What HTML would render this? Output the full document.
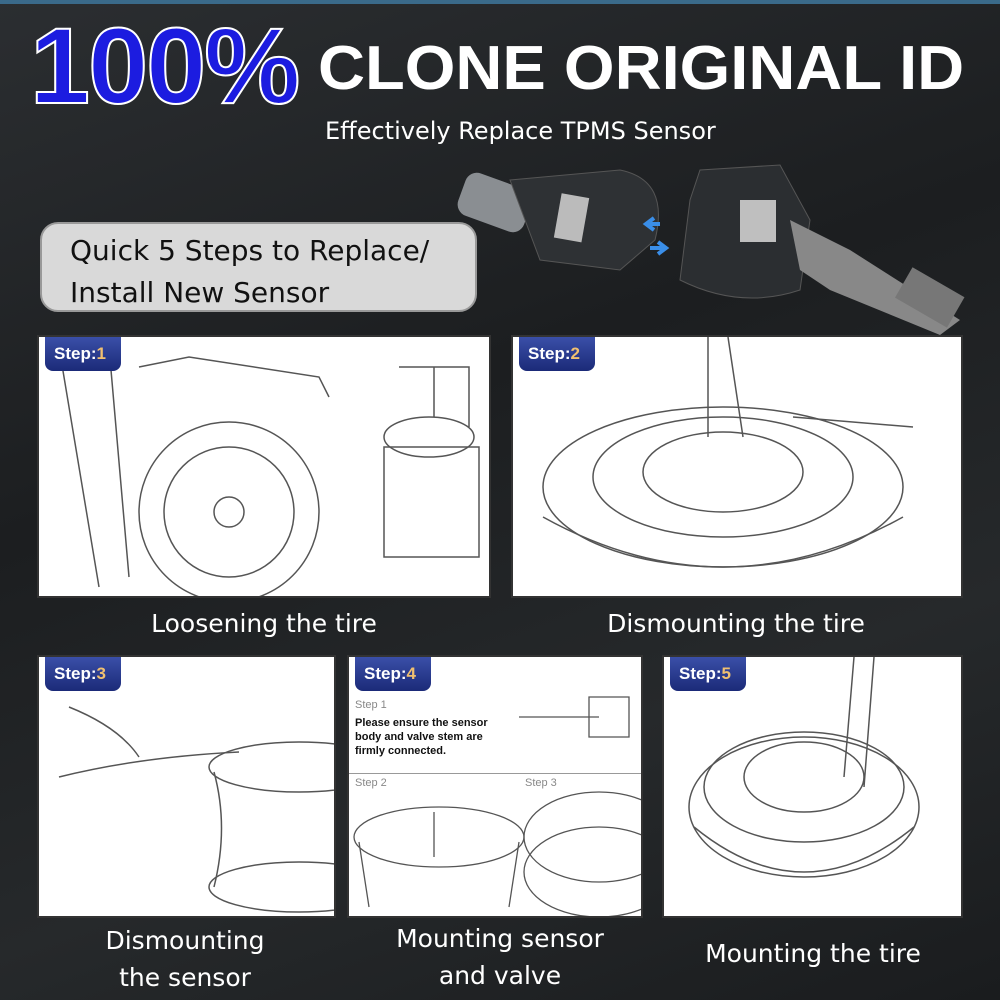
<!DOCTYPE html>
<html><head><style>
*{margin:0;padding:0;box-sizing:border-box}
body{width:1000px;height:1000px;overflow:hidden;background:linear-gradient(160deg,#2b2e31 0%,#1c1e20 40%,#26292b 70%,#1a1c1e 100%);font-family:"Liberation Sans","DejaVu Sans",sans-serif;position:relative}
.a{position:absolute}
.p{position:absolute;background:#fff;border:2px solid #333;overflow:hidden}
.b{position:absolute;left:6px;top:0;width:76px;height:34px;background:linear-gradient(#3a4fa8,#1b2a78);border-radius:0 0 8px 8px;color:#fff;font-weight:bold;font-size:17px;padding:7px 0 0 9px}
.b span{color:#f0c070}
.c{position:absolute;color:#fff;font-size:25px;text-align:center;font-family:"DejaVu Sans",sans-serif;line-height:37px}
</style></head><body>
<div class="a" style="left:0;top:0;width:1000px;height:4px;background:#3a6a8a"></div>
<div class="a" style="left:30px;top:12px;font-size:108px;line-height:1;font-weight:bold;color:#1c1ce0;-webkit-text-stroke:2px #fff;letter-spacing:-2px;white-space:nowrap">100%</div>
<div class="a" style="left:318px;top:38px;font-size:62px;line-height:1;font-weight:bold;color:#fff;white-space:nowrap;transform:scaleX(1.05);transform-origin:left">CLONE ORIGINAL ID</div>
<div class="a" style="left:325px;top:117px;font-size:24px;color:#fff;font-family:'DejaVu Sans',sans-serif;white-space:nowrap">Effectively Replace TPMS Sensor</div>
<div class="a" style="left:40px;top:222px;width:437px;height:90px;background:#d9d9d9;border-radius:18px;border:2px solid #999;padding:6px 0 0 28px;font-size:28px;line-height:42px;color:#111;font-family:'DejaVu Sans',sans-serif">Quick 5 Steps to Replace/<br>Install New Sensor</div>
<svg class="a" style="left:440px;top:160px" width="540" height="180">
<rect x="20" y="20" width="70" height="45" rx="12" fill="#8a8e92" transform="rotate(20 55 42)"/>
<path d="M70 20 L180 10 Q230 20 215 80 L180 110 L100 100 Z" fill="#2e3134" stroke="#555"/>
<rect x="118" y="35" width="28" height="45" fill="#bbb" transform="rotate(10 130 55)"/>
<path d="M260 10 L340 5 L370 60 L360 130 Q300 150 240 120 L250 40 Z" fill="#2b2e31" stroke="#555"/>
<rect x="300" y="40" width="36" height="42" fill="#bfbfbf"/>
<path d="M350 60 L410 90 L520 160 L500 175 L390 130 L360 110 Z" fill="#888"/>
<rect x="460" y="120" width="60" height="35" fill="#777" transform="rotate(30 490 137)"/>
<path d="M220 64 L206 64 M214 58 L206 64 L214 70" stroke="#3a8ee8" stroke-width="4" fill="none"/>
<path d="M210 88 L226 88 M218 82 L226 88 L218 94" stroke="#3a8ee8" stroke-width="4" fill="none"/>
</svg>
<div class="p" style="left:37px;top:335px;width:454px;height:263px">
<svg class="a" width="454" height="263" style="left:0;top:0" fill="none" stroke="#555" stroke-width="1.5">
<circle cx="190" cy="175" r="90"/><circle cx="190" cy="175" r="65"/><circle cx="190" cy="175" r="15"/>
<path d="M20 10 L60 250 M70 10 L90 240 M100 30 L150 20 L280 40 L290 60"/>
<rect x="345" y="110" width="95" height="110"/><ellipse cx="390" cy="100" rx="45" ry="20"/><path d="M360 30 L430 30 L430 90 M395 30 L395 80"/>
</svg>
<div class="b">Step:<span>1</span></div></div>
<div class="p" style="left:511px;top:335px;width:452px;height:263px">
<svg class="a" width="452" height="263" style="left:0;top:0" fill="none" stroke="#555" stroke-width="1.5">
<ellipse cx="210" cy="150" rx="180" ry="80"/><ellipse cx="210" cy="140" rx="130" ry="60"/><ellipse cx="210" cy="135" rx="80" ry="40"/>
<path d="M195 0 L195 100 M215 0 L230 100 M280 80 L400 90 M30 180 Q210 280 390 180"/>
</svg>
<div class="b">Step:<span>2</span></div></div>
<div class="p" style="left:37px;top:655px;width:299px;height:263px">
<svg class="a" width="299" height="263" style="left:0;top:0" fill="none" stroke="#555" stroke-width="1.5">
<ellipse cx="260" cy="110" rx="90" ry="25"/><ellipse cx="260" cy="230" rx="90" ry="25"/><path d="M175 115 Q190 170 175 230 M20 120 Q100 100 200 95 M30 50 Q80 70 100 100"/>
</svg>
<div class="b">Step:<span>3</span></div></div>
<div class="p" style="left:347px;top:655px;width:296px;height:263px">
<div class="a" style="left:6px;top:42px;font-size:11px;color:#888">Step 1</div>
<div class="a" style="left:6px;top:59px;font-size:11px;font-weight:bold;color:#111;line-height:14px">Please ensure the sensor<br>body and valve stem are<br>firmly connected.</div>
<div class="a" style="left:0;top:116px;width:296px;height:1px;background:#999"></div>
<div class="a" style="left:6px;top:120px;font-size:11px;color:#888">Step 2</div>
<div class="a" style="left:176px;top:120px;font-size:11px;color:#888">Step 3</div>
<svg class="a" width="296" height="263" style="left:0;top:0" fill="none" stroke="#555" stroke-width="1.3">
<ellipse cx="90" cy="180" rx="85" ry="30"/><path d="M10 185 L20 250 M170 185 L160 250 M85 155 L85 200"/>
<ellipse cx="250" cy="180" rx="75" ry="45"/><ellipse cx="250" cy="215" rx="75" ry="45"/>
<path d="M170 60 L250 60 M240 40 L280 40 L280 80 L240 80 Z"/>
</svg>
<div class="b">Step:<span>4</span></div></div>
<div class="p" style="left:662px;top:655px;width:301px;height:263px">
<svg class="a" width="301" height="263" style="left:0;top:0" fill="none" stroke="#555" stroke-width="1.5">
<ellipse cx="140" cy="150" rx="115" ry="70"/><ellipse cx="140" cy="130" rx="100" ry="55"/><ellipse cx="140" cy="120" rx="60" ry="35"/>
<path d="M190 0 L180 120 M210 0 L200 130 M30 170 Q140 260 250 170"/>
</svg>
<div class="b">Step:<span>5</span></div></div>
<div class="c" style="left:64px;top:605px;width:400px">Loosening the tire</div>
<div class="c" style="left:536px;top:605px;width:400px">Dismounting the tire</div>
<div class="c" style="left:35px;top:922px;width:300px">Dismounting<br>the sensor</div>
<div class="c" style="left:350px;top:920px;width:300px">Mounting sensor<br>and valve</div>
<div class="c" style="left:663px;top:935px;width:300px">Mounting the tire</div>
</body></html>
